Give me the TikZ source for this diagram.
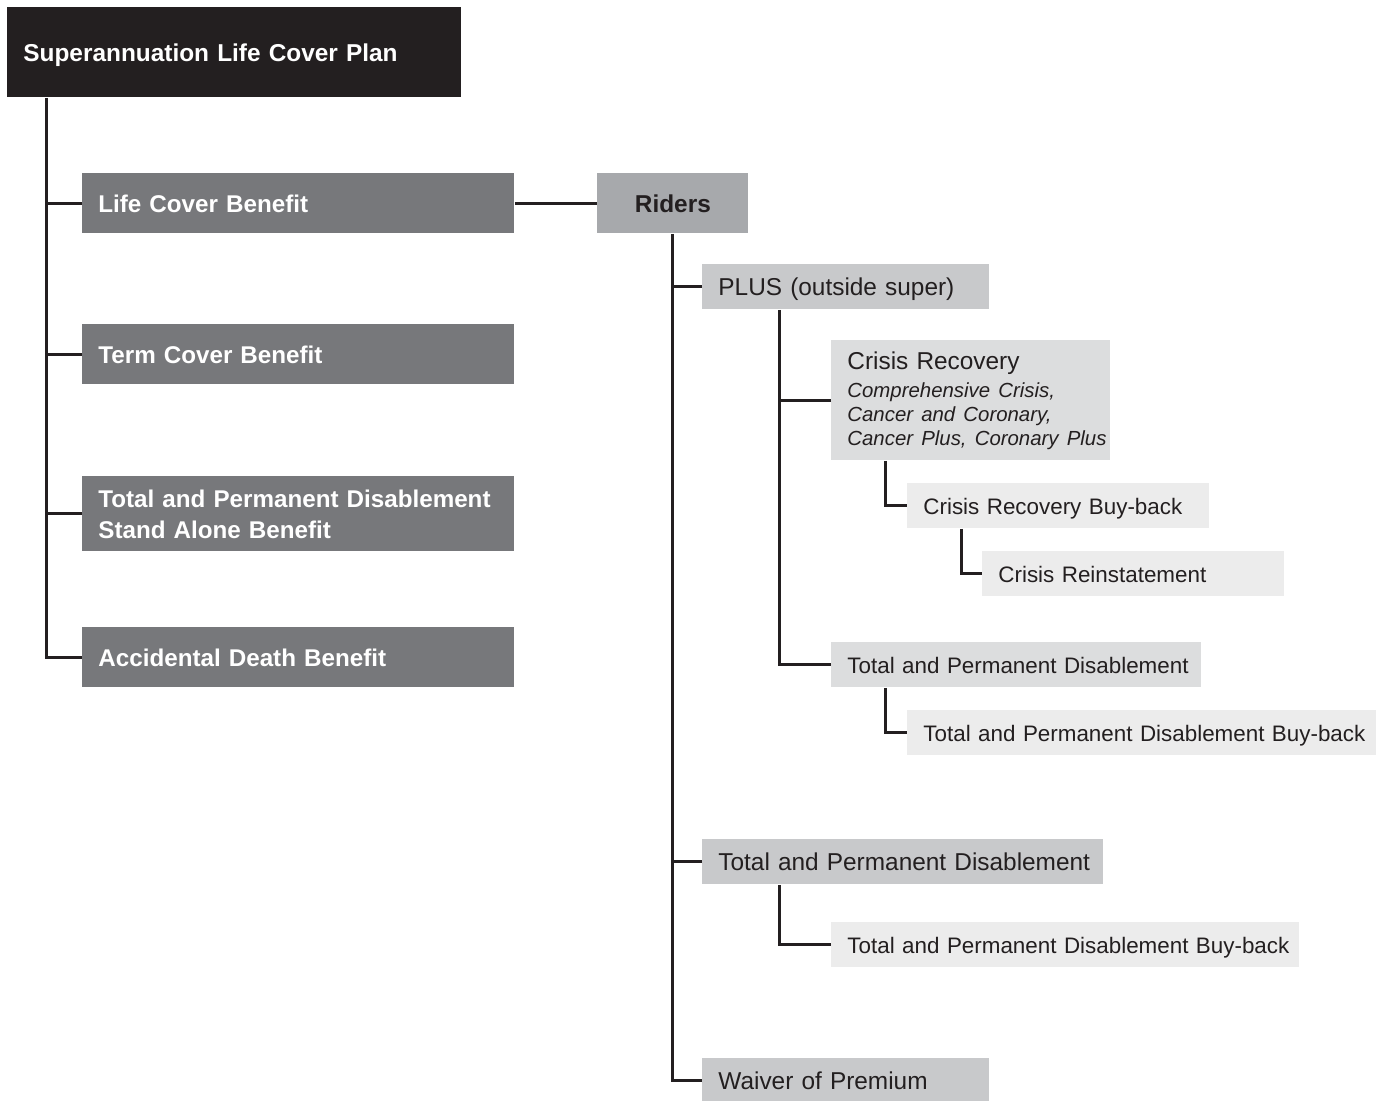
\documentclass[tikz,border=0pt]{standalone}
\usepackage{fontspec}
\setmainfont{Liberation Sans}
\usetikzlibrary{calc}
\definecolor{ink}{HTML}{231F20}
\definecolor{benefitgrey}{HTML}{77787B}
\definecolor{ridergrey}{HTML}{A7A9AC}
\definecolor{covergrey}{HTML}{C8C9CB}
\definecolor{optiongrey}{HTML}{DCDDDE}
\definecolor{buybackgrey}{HTML}{ECECEC}
\newcommand{\crline}[1]{{\fontsize{10.2}{12}\selectfont\itshape\mbox{#1}}}

\begin{document}
\begin{tikzpicture}[x=0.5pt,y=-0.5pt,
    box/.style={anchor=north west,inner xsep=8pt,inner ysep=0pt,align=left,text=ink,text depth=0pt},
    plan/.style={box,fill=ink,text=white,font=\fontsize{12.2}{15.5}\selectfont\bfseries,
      minimum height=45pt,text width=211pt},
    benefit/.style={box,fill=benefitgrey,text=white,font=\fontsize{12.1}{15.5}\selectfont\bfseries,
      minimum height=30pt,text width=200pt},
    rider/.style={box,fill=ridergrey,font=\fontsize{12.2}{14.6}\selectfont\bfseries,
      minimum height=30pt,align=center},
    cover/.style={box,fill=covergrey,font=\fontsize{12.2}{14.6}\selectfont,minimum height=22.5pt},
    option/.style={box,fill=optiongrey,font=\fontsize{11.2}{13.4}\selectfont,minimum height=22.5pt},
    buyback/.style={box,fill=buybackgrey,font=\fontsize{11.2}{13.4}\selectfont,minimum height=22.5pt},
    link/.style={draw=ink,line width=1.5pt}]
  % Page
  \useasboundingbox (0,0) rectangle (1391,1100);
  %
  % Plan and benefits
  \node[plan] (plan) at (7,7) {Superannuation Life Cover Plan};
  \node[benefit] (lcb) at (82,173) {Life Cover Benefit};
  \node[benefit] (tcb) at (82,324) {Term Cover Benefit};
  \node[benefit,minimum height=37.5pt,text depth=] (tpdsa) at (82,476)
    {\mbox{Total and Permanent Disablement}\\Stand Alone Benefit};
  \node[benefit] (adb) at (82,627) {Accidental Death Benefit};
  %
  % Riders
  \node[rider,text width=59.5pt] (riders) at (597,173) {Riders};
  \node[cover,text width=127.5pt] (plus) at (702,264) {PLUS (outside super)};
  \node[option,font=\fontsize{12.2}{12}\selectfont,minimum height=60pt,text width=123.5pt,text depth=] (cr) at (831,340)
    {Crisis Recovery\\[2pt]\crline{Comprehensive Crisis,}\\\crline{Cancer and Coronary,}\\\crline{Cancer Plus, Coronary Plus}};
  \node[buyback,text width=135pt] (crb) at (907,483) {Crisis Recovery Buy-back};
  \node[buyback,text width=135pt] (cri) at (982,551) {Crisis Reinstatement};
  \node[option,text width=169pt] (ptpd) at (831,642) {\mbox{Total and Permanent Disablement}};
  \node[buyback,text width=218.5pt] (ptpdb) at (907,710) {\mbox{Total and Permanent Disablement Buy-back}};
  \node[cover,text width=184.5pt] (tpd) at (702,839) {\mbox{Total and Permanent Disablement}};
  \node[buyback,text width=218pt] (tpdb) at (831,922) {\mbox{Total and Permanent Disablement Buy-back}};
  \node[cover,text width=127.5pt] (wop) at (702,1058) {Waiver of Premium};
  %
  % Trunks
  \coordinate (t1) at ([xshift=19.5pt]plan.south west);
  \coordinate (t2) at ([xshift=38.5pt]plus.south west);
  \draw[link] (t1) |- (adb.west);
  \foreach \b in {lcb,tcb,tpdsa} \draw[link] (\b.west) -- (\b.west -| t1);
  \draw[link] (lcb.east) -- (riders.west);
  \draw[link] (riders.south) |- (wop.west);
  \foreach \b in {plus,tpd} \draw[link] (\b.west) -- (\b.west -| riders.south);
  \draw[link] (t2) |- (ptpd.west);
  \draw[link] (cr.west) -- (cr.west -| t2);
  \draw[link] ([xshift=27pt]cr.south west) |- (crb.west);
  \draw[link] ([xshift=27pt]crb.south west) |- (cri.west);
  \draw[link] ([xshift=27pt]ptpd.south west) |- (ptpdb.west);
  \draw[link] ([xshift=38.5pt]tpd.south west) |- (tpdb.west);
  %
\end{tikzpicture}
\end{document}
